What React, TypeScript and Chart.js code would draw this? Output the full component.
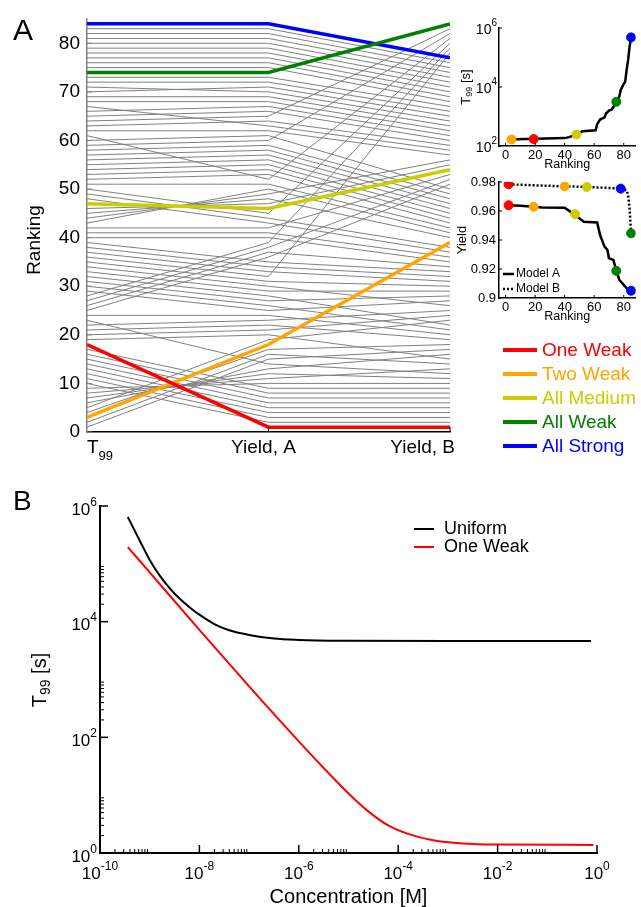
import React, { useEffect, useRef } from "react";
import { Chart, registerables } from "chart.js";

Chart.register(...registerables);

const W = 641;
const H = 907;
const FONT = '"Liberation Sans", Arial, Helvetica, sans-serif';

// ---------------- Panel A: parallel coordinates of rankings ----------------
const AXIS_BASE = ["T", "Yield, A", "Yield, B"];
const AXIS_SUB = ["99", "", ""];
const RANK_TICKS = [0, 10, 20, 30, 40, 50, 60, 70, 80];

const GRAY_T99 = [1, 2, 4, 5, 6, 7, 8, 9, 10, 11, 12, 13, 14, 15, 16, 17, 19, 20, 21, 22, 23, 24, 25, 26, 27, 28, 29, 30, 31, 32, 33, 34, 35, 36, 37, 38, 39, 40, 41, 42, 43, 44, 45, 46, 48, 49, 50, 51, 52, 53, 54, 55, 56, 57, 58, 59, 60, 61, 62, 63, 64, 65, 66, 67, 68, 69, 70, 71, 72, 73, 75, 76, 77, 78, 79, 80, 81, 82, 83];
const GRAY_YIELD_A = [15, 16, 17, 19, 13, 12, 11, 10, 2, 3, 4, 5, 6, 7, 8, 9, 20, 21, 22, 23, 14, 24, 36, 37, 38, 39, 25, 26, 27, 28, 29, 30, 31, 32, 33, 34, 35, 40, 41, 42, 50, 49, 48, 47, 43, 44, 45, 51, 53, 54, 55, 56, 57, 58, 59, 60, 61, 52, 62, 64, 65, 66, 67, 63, 68, 69, 71, 70, 72, 73, 75, 76, 77, 78, 79, 80, 81, 82, 83];
const GRAY_YIELD_B = [17, 14, 18, 23, 16, 11, 13, 10, 2, 3, 4, 5, 6, 7, 8, 9, 15, 24, 19, 25, 12, 20, 51, 34, 52, 79, 27, 21, 28, 22, 29, 26, 30, 78, 31, 32, 33, 35, 36, 53, 41, 56, 40, 55, 37, 38, 80, 42, 43, 44, 45, 46, 47, 48, 49, 82, 50, 81, 57, 59, 83, 60, 61, 58, 62, 63, 65, 64, 66, 67, 68, 69, 70, 71, 72, 73, 74, 75, 76];

const HIGHLIGHT_NAMES = ["One Weak", "Two Weak", "All Medium", "All Weak", "All Strong"];
const HIGHLIGHT_COLORS = ["#ff0000", "#ffa500", "#cccc00", "#008000", "#0000ff"];
const HIGHLIGHT_T99 = [18, 3, 47, 74, 84];
const HIGHLIGHT_YIELD_A = [1, 18, 46, 74, 84];
const HIGHLIGHT_YIELD_B = [1, 39, 54, 84, 77];

// ---------------- Inset: T99 vs ranking ----------------
const INSET_RANK_TICKS = [0, 20, 40, 60, 80];
const T99_INSET_RANK = [1, 40, 43, 48, 52, 61, 62, 64, 67, 68, 70, 72, 75, 77, 78, 80, 81, 82, 83, 84, 85];
const T99_INSET_VALUE = [165, 185, 200, 245, 316, 340, 550, 790, 930, 1260, 1580, 1740, 3160, 4700, 7900, 12600, 15000, 38000, 83000, 234000, 480000];
const T99_INSET_TICK_EXP = [2, 4, 6];
const MARK_T99_RANK = [19, 4, 48, 75, 85];
const MARK_T99_VALUE = [172, 166, 245, 3160, 480000];

// ---------------- Inset: Yield vs ranking ----------------
const YIELD_TICKS = [0.9, 0.92, 0.94, 0.96, 0.98];
const MODEL_NAMES = ["Model A", "Model B"];
const MODEL_A_RANK = [2, 10, 19, 25, 40, 44, 47, 50, 53, 62, 64, 67, 69, 70, 73, 75, 77, 80, 83, 85];
const MODEL_A_YIELD = [0.964, 0.9637, 0.9629, 0.9624, 0.9622, 0.9594, 0.9578, 0.9549, 0.9526, 0.9521, 0.9434, 0.9354, 0.9331, 0.9274, 0.9263, 0.9187, 0.9126, 0.9091, 0.9057, 0.905];
const MODEL_B_RANK = [2, 20, 40, 55, 70, 78, 82, 83, 84, 85];
const MODEL_B_YIELD = [0.9784, 0.9777, 0.977, 0.9766, 0.9759, 0.9754, 0.9743, 0.9709, 0.9617, 0.9446];
const MARK_A_RANK = [2, 19, 47, 75, 85];
const MARK_A_YIELD = [0.964, 0.9629, 0.9578, 0.9187, 0.905];
const MARK_B_RANK = [2, 40, 55, 85, 78];
const MARK_B_YIELD = [0.9784, 0.977, 0.9766, 0.9446, 0.9754];

// ---------------- Panel B: T99 vs concentration ----------------
const B_NAMES = ["Uniform", "One Weak"];
const B_COLORS = ["#000000", "#ff0000"];
const UNIFORM_CONC = [3.63e-10, 6.31e-10, 1e-9, 1.58e-9, 2.51e-9, 3.98e-9, 6.31e-9, 1e-8, 2e-8, 3.98e-8, 1e-7, 3.16e-7, 1e-6, 1e-5, 1e-3, 0.76];
const UNIFORM_T99 = [6.46e5, 2.51e5, 1.17e5, 6.3e4, 3.8e4, 2.51e4, 1.78e4, 1.32e4, 9.1e3, 7.1e3, 5.9e3, 5.1e3, 4.84e3, 4.68e3, 4.62e3, 4.62e3];
const ONEWEAK_CONC = [3.63e-10, 1e-9, 1e-8, 1e-7, 1e-6, 3.16e-6, 1e-5, 2.5e-5, 6.3e-5, 1.58e-4, 5e-4, 2e-3, 1e-2, 0.85];
const ONEWEAK_T99 = [1.95e5, 7.1e4, 7.2e3, 760, 85, 29.5, 10.7, 5.25, 3.0, 2.14, 1.66, 1.46, 1.4, 1.38];
const CONC_MAJOR_EXP = [-10, -8, -6, -4, -2, 0];
const T99_MAJOR_EXP = [0, 2, 4, 6];
const MINOR_K = [2, 3, 4, 5, 6, 7, 8, 9];

// ---------------- helpers ----------------
function font(size: number) {
  return `${size}px ${FONT}`;
}
function text(ctx: any, s: string, x: number, y: number, size: number, color = "#000", align = "left", baseline = "alphabetic") {
  ctx.font = font(size);
  ctx.fillStyle = color;
  ctx.textAlign = align;
  ctx.textBaseline = baseline;
  ctx.fillText(s, x, y);
}
function seg(ctx: any, x1: number, y1: number, x2: number, y2: number, color: string, w: number, dash: number[] = []) {
  ctx.save();
  ctx.strokeStyle = color;
  ctx.lineWidth = w;
  ctx.setLineDash(dash);
  ctx.beginPath();
  ctx.moveTo(x1, y1);
  ctx.lineTo(x2, y2);
  ctx.stroke();
  ctx.restore();
}
function powText(ctx: any, exp: string, x: number, y: number, size: number, supSize: number, align: string) {
  ctx.font = font(size);
  const w1 = ctx.measureText("10").width;
  ctx.font = font(supSize);
  const w2 = ctx.measureText(exp).width;
  const total = w1 + w2;
  const x0 = align === "center" ? x - total / 2 : x - total;
  text(ctx, "10", x0, y, size, "#000", "left", "middle");
  text(ctx, exp, x0 + w1, y - size * 0.45, supSize, "#000", "left", "middle");
}
function rotatedSub(ctx: any, cx: number, cy: number, base: string, sub: string, rest: string, size: number, subSize: number) {
  ctx.save();
  ctx.translate(cx, cy);
  ctx.rotate(-Math.PI / 2);
  ctx.font = font(size);
  const w1 = ctx.measureText(base).width;
  const w3 = ctx.measureText(rest).width;
  ctx.font = font(subSize);
  const w2 = ctx.measureText(sub).width;
  const x0 = -(w1 + w2 + w3) / 2;
  text(ctx, base, x0, 0, size, "#000", "left", "middle");
  if (sub) text(ctx, sub, x0 + w1, size * 0.3, subSize, "#000", "left", "middle");
  if (rest) text(ctx, rest, x0 + w1 + w2, 0, size, "#000", "left", "middle");
  ctx.restore();
}

function baseOptions(area: any, scales: any) {
  return {
    responsive: false,
    animation: false,
    devicePixelRatio: 1,
    events: [],
    layout: { padding: { left: area.l, top: area.t, right: W - area.r, bottom: H - area.b } },
    plugins: { legend: { display: false }, tooltip: { enabled: false } },
    elements: { point: { radius: 0 }, line: { tension: 0 } },
    scales,
  };
}
function axis(type: string, min: number, max: number, color: string, width: number) {
  return {
    type,
    min,
    max,
    ticks: { display: false },
    grid: { display: false, drawTicks: false },
    title: { display: false },
    border: { display: true, color, width },
  };
}

// ---------------- chart builders ----------------
function makeMain(canvas: HTMLCanvasElement) {
  const highlight = HIGHLIGHT_NAMES.map((name, i) => ({
    label: name,
    data: [
      { x: 0, y: HIGHLIGHT_T99[i] },
      { x: 1, y: HIGHLIGHT_YIELD_A[i] },
      { x: 2, y: HIGHLIGHT_YIELD_B[i] },
    ],
    borderColor: HIGHLIGHT_COLORS[i],
    borderWidth: 3.5,
    pointRadius: 0,
    order: 0,
  }));
  const gray = GRAY_T99.map((t, i) => ({
    label: "design " + i,
    data: [
      { x: 0, y: t },
      { x: 1, y: GRAY_YIELD_A[i] },
      { x: 2, y: GRAY_YIELD_B[i] },
    ],
    borderColor: "#808080",
    borderWidth: 1,
    pointRadius: 0,
    order: 1,
  }));
  const extras = {
    id: "mainExtras",
    afterDraw(chart: any) {
      const { ctx } = chart;
      const x = chart.scales.x;
      const y = chart.scales.y;
      ctx.save();
      RANK_TICKS.forEach((v) => {
        const py = y.getPixelForValue(v);
        seg(ctx, x.left, py, x.left + 5, py, "#808080", 1);
        text(ctx, String(v), x.left - 7, py, 19, "#000", "right", "middle");
      });
      AXIS_BASE.forEach((lab, i) => {
        const px = x.getPixelForValue(i);
        if (i > 0) seg(ctx, px, y.bottom, px, y.bottom - 5, "#000", 1);
        const by = y.bottom + 21;
        if (i === 0) {
          ctx.font = font(19);
          const w = ctx.measureText(lab).width;
          text(ctx, lab, px, by, 19);
          text(ctx, AXIS_SUB[i], px + w, by + 7, 13);
        } else if (i === AXIS_BASE.length - 1) {
          text(ctx, lab, px + 5, by, 19, "#000", "right");
        } else {
          text(ctx, lab, px - 5, by, 19, "#000", "center");
        }
      });
      rotatedSub(ctx, 35, 240, "Ranking", "", "", 19, 13);
      text(ctx, "A", 13, 40, 30);
      // colour legend
      HIGHLIGHT_NAMES.forEach((name, i) => {
        const ly = 350 + i * 24;
        seg(ctx, 503, ly, 537, ly, HIGHLIGHT_COLORS[i], 4);
        text(ctx, name, 542, ly + 1, 19, HIGHLIGHT_COLORS[i], "left", "middle");
      });
      ctx.restore();
    },
  };
  return new Chart(canvas, {
    type: "line",
    data: { datasets: [...highlight, ...gray] },
    options: baseOptions(
      { l: 87, t: 19, r: 450, b: 432 },
      { x: axis("linear", 0, 2, "#000", 1.5), y: axis("linear", 0, 85, "#808080", 1.5) }
    ),
    plugins: [extras],
  } as any);
}

function markerSets(ranks: number[], values: number[]) {
  return HIGHLIGHT_NAMES.map((name, i) => ({
    label: name,
    data: [{ x: ranks[i], y: values[i] }],
    showLine: false,
    pointRadius: 4.5,
    pointBackgroundColor: HIGHLIGHT_COLORS[i],
    pointBorderColor: HIGHLIGHT_COLORS[i],
    pointBorderWidth: 1,
    order: 0,
  }));
}

function rankAxisExtras(ctx: any, x: any, y: any) {
  INSET_RANK_TICKS.forEach((v) => {
    const px = x.getPixelForValue(v);
    seg(ctx, px, y.bottom, px, y.bottom - 3, "#000", 1);
    text(ctx, String(v), px, y.bottom + 9, 13, "#000", "center", "middle");
  });
  text(ctx, "Ranking", (x.left + x.right) / 2, y.bottom + 19, 12.5, "#000", "center", "middle");
}

function makeT99Inset(canvas: HTMLCanvasElement) {
  const extras = {
    id: "t99Extras",
    afterDraw(chart: any) {
      const { ctx } = chart;
      const x = chart.scales.x;
      const y = chart.scales.y;
      ctx.save();
      T99_INSET_TICK_EXP.forEach((e) => {
        const py = y.getPixelForValue(Math.pow(10, e));
        seg(ctx, x.left, py, x.left + 3, py, "#000", 1);
        powText(ctx, String(e), x.left - 2, py + 2, 14, 10, "right");
      });
      rankAxisExtras(ctx, x, y);
      rotatedSub(ctx, 466, 87, "T", "99", " [s]", 13, 9);
      ctx.restore();
    },
  };
  return new Chart(canvas, {
    type: "line",
    data: {
      datasets: [
        ...markerSets(MARK_T99_RANK, MARK_T99_VALUE),
        {
          label: "T99",
          data: T99_INSET_RANK.map((r, i) => ({ x: r, y: T99_INSET_VALUE[i] })),
          borderColor: "#000",
          borderWidth: 2.5,
          pointRadius: 0,
          order: 1,
        },
      ],
    },
    options: baseOptions(
      { l: 499, t: 28, r: 641, b: 146 },
      { x: axis("linear", -4.5, 88, "#000", 1.5), y: axis("logarithmic", 100, 1e6, "#000", 1.5) }
    ),
    plugins: [extras],
  } as any);
}

function makeYieldInset(canvas: HTMLCanvasElement) {
  const extras = {
    id: "yieldExtras",
    afterDraw(chart: any) {
      const { ctx } = chart;
      const x = chart.scales.x;
      const y = chart.scales.y;
      ctx.save();
      YIELD_TICKS.forEach((v) => {
        const py = y.getPixelForValue(v);
        seg(ctx, x.left, py, x.left + 3, py, "#000", 1);
        text(ctx, String(v), x.left - 3, py, 13, "#000", "right", "middle");
      });
      rankAxisExtras(ctx, x, y);
      rotatedSub(ctx, 462, 240, "Yield", "", "", 13, 9);
      MODEL_NAMES.forEach((name, i) => {
        const ly = 274 + i * 15;
        seg(ctx, 503, ly, 514, ly, "#000", 2.5, i === 1 ? [2, 2] : []);
        text(ctx, name, 516, ly, 12, "#000", "left", "middle");
      });
      ctx.restore();
    },
  };
  return new Chart(canvas, {
    type: "line",
    data: {
      datasets: [
        ...markerSets(MARK_A_RANK, MARK_A_YIELD),
        ...markerSets(MARK_B_RANK, MARK_B_YIELD),
        {
          label: MODEL_NAMES[0],
          data: MODEL_A_RANK.map((r, i) => ({ x: r, y: MODEL_A_YIELD[i] })),
          borderColor: "#000",
          borderWidth: 2.5,
          pointRadius: 0,
          order: 1,
        },
        {
          label: MODEL_NAMES[1],
          data: MODEL_B_RANK.map((r, i) => ({ x: r, y: MODEL_B_YIELD[i] })),
          borderColor: "#000",
          borderWidth: 2.5,
          borderDash: [2, 2],
          pointRadius: 0,
          order: 1,
        },
      ],
    },
    options: baseOptions(
      { l: 499, t: 182, r: 641, b: 298 },
      { x: axis("linear", -4.5, 88, "#000", 1.5), y: axis("linear", 0.9, 0.98, "#000", 1.5) }
    ),
    plugins: [extras],
  } as any);
}

function makePanelB(canvas: HTMLCanvasElement) {
  const extras = {
    id: "bExtras",
    afterDraw(chart: any) {
      const { ctx } = chart;
      const x = chart.scales.x;
      const y = chart.scales.y;
      ctx.save();
      CONC_MAJOR_EXP.forEach((e) => {
        const px = x.getPixelForValue(Math.pow(10, e));
        seg(ctx, px, y.bottom, px, y.bottom - 8, "#000", 1.5);
        powText(ctx, String(e), px, y.bottom + 21, 17, 12, "center");
        if (e < 0) {
          MINOR_K.forEach((k) => {
            const mx = x.getPixelForValue(k * Math.pow(10, e));
            seg(ctx, mx, y.bottom, mx, y.bottom - 4, "#000", 1);
          });
        }
      });
      T99_MAJOR_EXP.forEach((e) => {
        const py = y.getPixelForValue(Math.pow(10, e));
        seg(ctx, x.left, py, x.left + 8, py, "#000", 1.5);
        powText(ctx, String(e), x.left - 3, py + 4, 17, 12, "right");
        if (e < 6) {
          MINOR_K.forEach((k) => {
            const my = y.getPixelForValue(k * Math.pow(10, e));
            seg(ctx, x.left, my, x.left + 4, my, "#000", 1);
          });
        }
      });
      text(ctx, "Concentration [M]", (x.left + x.right) / 2, 897, 20, "#000", "center", "middle");
      rotatedSub(ctx, 40, 680, "T", "99", " [s]", 20, 14);
      text(ctx, "B", 13, 510, 28);
      B_NAMES.forEach((name, i) => {
        const ly = 529 + i * 18;
        seg(ctx, 414, ly, 434, ly, B_COLORS[i], 2);
        text(ctx, name, 444, ly, 18, "#000", "left", "middle");
      });
      ctx.restore();
    },
  };
  return new Chart(canvas, {
    type: "line",
    data: {
      datasets: [
        {
          label: B_NAMES[0],
          data: UNIFORM_CONC.map((c, i) => ({ x: c, y: UNIFORM_T99[i] })),
          borderColor: B_COLORS[0],
          borderWidth: 2,
          pointRadius: 0,
          cubicInterpolationMode: "monotone",
        },
        {
          label: B_NAMES[1],
          data: ONEWEAK_CONC.map((c, i) => ({ x: c, y: ONEWEAK_T99[i] })),
          borderColor: B_COLORS[1],
          borderWidth: 2,
          pointRadius: 0,
          cubicInterpolationMode: "monotone",
        },
      ],
    },
    options: baseOptions(
      { l: 100, t: 506, r: 597, b: 853 },
      { x: axis("logarithmic", 1e-10, 1, "#000", 2), y: axis("logarithmic", 1, 1e6, "#000", 2) }
    ),
    plugins: [extras],
  } as any);
}

function ChartLayer({ make }: { make: (c: HTMLCanvasElement) => any }) {
  const ref = useRef<HTMLCanvasElement>(null);
  useEffect(() => {
    const chart = make(ref.current as HTMLCanvasElement);
    return () => chart.destroy();
  }, [make]);
  return (
    <canvas
      ref={ref}
      width={W}
      height={H}
      style={{ position: "absolute", left: 0, top: 0, width: W, height: H }}
    />
  );
}

export default function App() {
  return (
    <div
      style={{
        position: "absolute",
        left: 0,
        top: 0,
        width: W,
        height: H,
        overflow: "hidden",
        background: "#fff",
      }}
    >
      <ChartLayer make={makeMain} />
      <ChartLayer make={makeT99Inset} />
      <ChartLayer make={makeYieldInset} />
      <ChartLayer make={makePanelB} />
    </div>
  );
}
